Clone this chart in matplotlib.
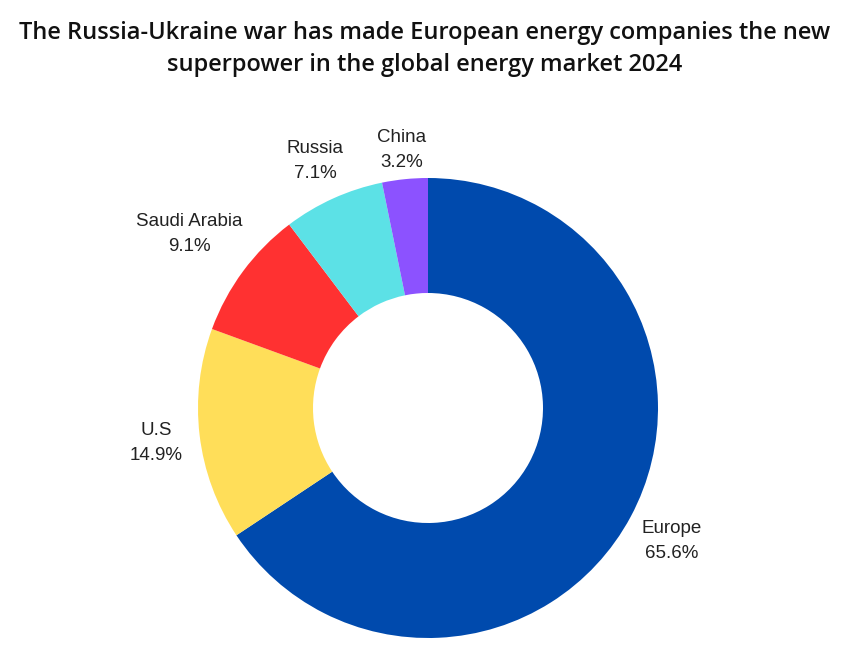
import numpy as np
import matplotlib.pyplot as plt

countries = ['Europe', 'U.S', 'Saudi Arabia', 'Russia', 'China']
shares = [65.6, 14.9, 9.1, 7.1, 3.2]
colors = ['#004aad', '#ffde59', '#ff3131', '#5ce1e6', '#8c52ff']
label_dist = [1.20, 1.19, 1.29, 1.19, 1.14]

fig = plt.figure(figsize=(8.5, 6.7), dpi=100)
# pie centre at (428, 408) px, radius 230 px
r_px = 230
lim = 1.25
w_px = 2 * lim * r_px
ax = fig.add_axes([(428 - w_px / 2) / 850, (670 - 408 - w_px / 2) / 670,
                   w_px / 850, w_px / 670])

wedges, _ = ax.pie(shares, colors=colors, startangle=90, counterclock=False,
                   radius=1, wedgeprops=dict(width=0.5, linewidth=0))
ax.set_xlim(-lim, lim)
ax.set_ylim(-lim, lim)
ax.set_aspect('equal')
ax.axis('off')

for w, name, val, d in zip(wedges, countries, shares, label_dist):
    ang = np.deg2rad((w.theta1 + w.theta2) / 2)
    ax.text(d * np.cos(ang), d * np.sin(ang) - 0.012, f'{name}\n{val}%',
            ha='center', va='center', fontsize=13.5, color='#222222',
            family='Liberation Sans', linespacing=1.6)

fig.text(0.5, 0.968, 'The Russia-Ukraine war has made European energy companies the new\n'
         'superpower in the global energy market 2024',
         ha='center', va='top', fontsize=17, fontweight='semibold',
         family='Open Sans', color='#111111', linespacing=1.43)

fig.savefig('out.png', dpi=100)
